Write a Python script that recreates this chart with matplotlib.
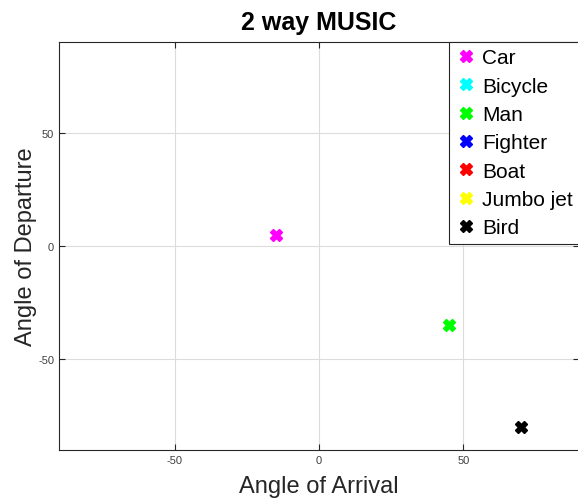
import numpy as np
import matplotlib.pyplot as plt

plt.rcParams['font.family'] = ['Liberation Sans', 'DejaVu Sans']
plt.rcParams['axes.unicode_minus'] = False

# Estimated (AoA, AoD) per target; NaN where the target was not resolved
targets = ['Car', 'Bicycle', 'Man', 'Fighter', 'Boat', 'Jumbo jet', 'Bird']
colors = ['#ff00ff', '#00ffff', '#00ff00', '#0000ff', '#ff0000', '#ffff00', '#000000']
aoa = [-15, np.nan, 45, np.nan, np.nan, np.nan, 70]
aod = [5, np.nan, -35, np.nan, np.nan, np.nan, -80]

fig = plt.figure(figsize=(5.78, 5.02), dpi=100)
ax = fig.add_axes([59 / 578, 1 - 451 / 502, 520 / 578, 408 / 502])

for name, c, x, y in zip(targets, colors, aoa, aod):
    ax.plot([x], [y], linestyle='none', marker='X', markersize=9,
            color=c, markeredgecolor=c, label=name)

ax.set_xlim(-90, 90)
ax.set_ylim(-90, 90)
ax.set_xticks([-50, 0, 50])
ax.set_yticks([-50, 0, 50])
ax.grid(True, color='#dcdcdc', linewidth=0.8)
ax.set_axisbelow(True)
ax.tick_params(direction='in', top=True, right=True, labelsize=8,
               colors='#262626', labelcolor='#404040', length=4)
for s in ax.spines.values():
    s.set_color('#262626')
    s.set_linewidth(0.8)

ax.set_xlabel('Angle of Arrival', fontsize=17, color='#262626', labelpad=7)
ax.set_ylabel('Angle of Departure', fontsize=17, color='#262626', labelpad=1)
ax.set_title('2 way MUSIC', fontsize=18, fontweight='bold', pad=9)

leg = ax.legend(loc='upper right', fontsize=15, borderaxespad=0,
                labelspacing=0.45, handletextpad=0.2, handlelength=1.1,
                borderpad=0.3, fancybox=False, framealpha=1)
leg.get_frame().set_edgecolor('#262626')
leg.get_frame().set_linewidth(0.8)

fig.savefig('out.png', dpi=100)
